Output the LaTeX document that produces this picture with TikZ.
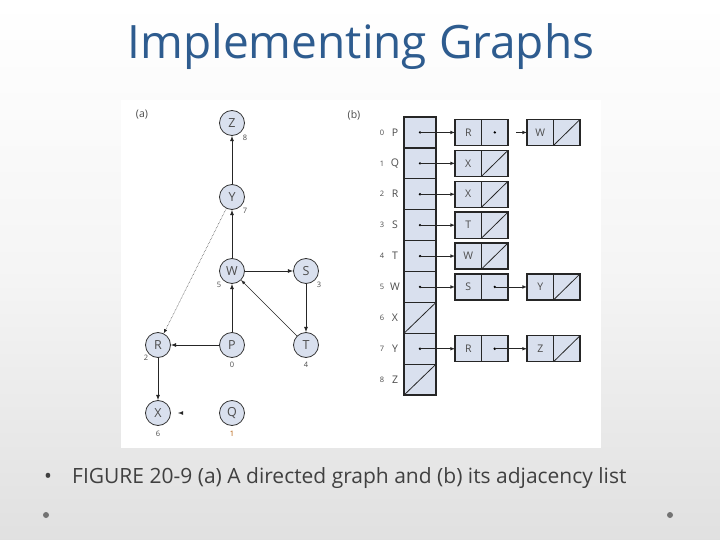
\documentclass[tikz,border=0pt]{standalone}
\usepackage{fontspec}
\setmainfont{Open Sans}
\begin{document}
\begin{tikzpicture}[x=1pt,y=-1pt,
 gn/.style={circle,draw=black!80,line width=0.8pt,fill=nodefill,minimum size=25pt,inner sep=0pt,font=\fontsize{12.5}{12.5}\selectfont,text=black!70},
 lab/.style={font=\fontsize{7.5}{7.5}\selectfont,text=black!70,inner sep=0pt},
 cell/.style={draw=black!85,line width=1.3pt,fill=nodefill},
 ed/.style={-latex,line width=0.8pt,black!85},
 small/.style={font=\fontsize{10.5}{10.5}\selectfont,text=black!70,inner sep=0pt}]
\definecolor{nodefill}{HTML}{D9E0EE}
\definecolor{titleblue}{HTML}{2E5C8F}
\useasboundingbox (0,0) rectangle (720,540);
\shade[top color=white,bottom color=black!12,middle color=black!4] (0,0) rectangle (720,540);
\fill[white] (121,100) rectangle (601,448);
\node[text=titleblue,font=\fontsize{46}{46}\selectfont] (title) at (361,47) {Implementing Graphs};
\node[font=\fontsize{21}{21}\selectfont,text=black!75] (bul) at (48,478) {•};
\node[anchor=west,font=\fontsize{21}{21}\selectfont,text=black!75,inner sep=0pt] (cap) at (72,478) {FIGURE 20-9 (a) A directed graph and (b) its adjacency list};
\fill[black!55] (46,515) circle (3);
\fill[black!55] (670,515) circle (3);
% graph
\node[small] (la) at (142,115) {(a)};
\node[small] (lb) at (354,115) {(b)};
\node[gn] (Z) at (232,123) {Z};
\node[gn] (Y) at (232,197) {Y};
\node[gn] (W) at (232,271) {W};
\node[gn] (S) at (306,271) {S};
\node[gn] (R) at (158,345) {R};
\node[gn] (P) at (232,345) {P};
\node[gn] (T) at (306,345) {T};
\node[gn] (X) at (158,413) {X};
\node[gn] (Q) at (232,413) {Q};
\node[lab] at (245,138) {8};
\node[lab] at (245,211) {7};
\node[lab] at (219,285) {5};
\node[lab] at (319,285) {3};
\node[lab] at (146,358) {2};
\node[lab] at (232,365) {0};
\node[lab] at (306,365) {4};
\node[lab] at (158,434) {6};
\node[lab,text=orange!70!black] at (232,434) {1};
\draw[ed] (Y) -- (Z);
\draw[ed] (W) -- (Y);
\draw[ed] (W) -- (S);
\draw[ed] (S) -- (T);
\draw[ed,line width=0.5pt] (T) -- (W);
\draw[ed,line width=0.5pt,densely dotted] (Y) -- (R);
\draw[ed] (P) -- (R);
\draw[ed] (P) -- (W);
\draw[ed] (R) -- (X);
\coordinate (s1) at (182,413); \coordinate (s2) at (178,413);
\draw[ed] (s1) -- (s2);
% adjacency list
\foreach \i/\l/\nul in {0/P/0,1/Q/0,2/R/0,3/S/0,4/T/0,5/W/0,6/X/1,7/Y/0,8/Z/1}{
  \pgfmathsetmacro{\yt}{117+\i*30.9}
  \pgfmathsetmacro{\yc}{\yt+15.45}
  \draw[cell] (404,\yt) rectangle (436,\yt+30.9);
  \node[lab] at (382,\yc) {\i};
  \node[small] at (395,\yc) {\l};
  \ifnum\nul=1 \draw[black!85,line width=0.8pt] (404,\yt+30.9) -- (436,\yt); \else \fill[black] (420,\yc) circle (1.3); \fi
}
\newcommand{\lnode}[4]{% x, yc, label, null?
  \draw[cell] (#1,#2-13) rectangle (#1+26.5,#2+13);
  \draw[cell] (#1+26.5,#2-13) rectangle (#1+53,#2+13);
  \node[small] at (#1+13.25,#2) {#3};
  \ifnum#4=1 \draw[black!85,line width=0.8pt] (#1+26.5,#2+13) -- (#1+53,#2-13); \else \fill[black] (#1+39.75,#2) circle (1.3);\fi
}
\foreach \yc/\a/\nul in {132.45/R/0,163.35/X/1,194.25/X/1,225.15/T/1,256.05/W/1,286.95/S/0,348.75/R/0}{
  \lnode{455}{\yc}{\a}{\nul}
  \coordinate (f) at (420,\yc); \coordinate (g) at (455,\yc);
  \draw[ed,line width=0.6pt] (f) -- (g);
}
\foreach \yc/\a/\solid in {132.45/W/0,286.95/Y/1,348.75/Z/1}{
  \lnode{527}{\yc}{\a}{1}
  \coordinate (f) at (495,\yc); \coordinate (g) at (527,\yc);
  \ifnum\solid=1 \draw[ed,line width=0.6pt] (f) -- (g); \else \coordinate (h) at (516,\yc); \draw[ed,line width=0.6pt] (h) -- (g); \fi
}
\end{tikzpicture}
\end{document}
